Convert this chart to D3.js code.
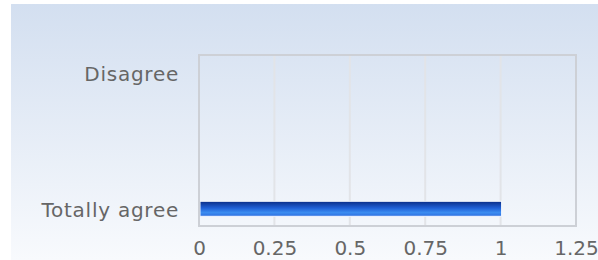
<!DOCTYPE html>
<html>
<head>
<meta charset="utf-8">
<script src="https://cdn.jsdelivr.net/npm/d3@7"></script>
<style>
  body { margin: 0; background: #fff; }
  text { font-family: "DejaVu Sans", Verdana, sans-serif; fill: #666; }
</style>
</head>
<body>
<div id="chart"></div>
<script>
// data
var categories = ["Disagree", "Totally agree"];
var values = [0, 1];
var tickValues = [0, 0.25, 0.5, 0.75, 1, 1.25];

var svgWidth = 598;
var svgHeight = 260;

var plot = { left: 199, top: 55, right: 576, bottom: 226 };

var svg = d3.select("#chart").append("svg")
  .attr("width", svgWidth)
  .attr("height", svgHeight);

var defs = svg.append("defs");

var bg = defs.append("linearGradient")
  .attr("id", "bgGrad")
  .attr("x1", 0).attr("y1", 0).attr("x2", 0).attr("y2", 1);
bg.append("stop").attr("offset", "0%").attr("stop-color", "#d3dff0");
bg.append("stop").attr("offset", "100%").attr("stop-color", "#f8fafd");

var barGrad = defs.append("linearGradient")
  .attr("id", "barGrad")
  .attr("x1", 0).attr("y1", 0).attr("x2", 0).attr("y2", 1);
barGrad.append("stop").attr("offset", "0%").attr("stop-color", "#0a2c86");
barGrad.append("stop").attr("offset", "45%").attr("stop-color", "#1f5fd6");
barGrad.append("stop").attr("offset", "75%").attr("stop-color", "#3b8cf0");
barGrad.append("stop").attr("offset", "100%").attr("stop-color", "#2f6fe0");

// background panel
svg.append("rect")
  .attr("x", 11)
  .attr("y", 4)
  .attr("width", svgWidth - 11)
  .attr("height", svgHeight - 4)
  .attr("fill", "url(#bgGrad)");

var x = d3.scaleLinear()
  .domain([0, 1.25])
  .range([plot.left, plot.right]);

var y = d3.scalePoint()
  .domain(categories)
  .range([plot.top, plot.bottom])
  .padding(0.126);

// gridlines
svg.append("g")
  .selectAll("line")
  .data(tickValues.slice(1, -1))
  .enter()
  .append("line")
  .attr("x1", d => x(d))
  .attr("x2", d => x(d))
  .attr("y1", plot.top)
  .attr("y2", plot.bottom)
  .attr("stroke", "#e2e4e8")
  .attr("stroke-width", 2);

// bars
var barH = 16;
svg.append("g")
  .selectAll("rect")
  .data(categories.map((c, i) => ({ cat: c, val: values[i] })).filter(d => d.val > 0))
  .enter()
  .append("rect")
  .attr("x", x(0) + 1)
  .attr("y", d => y(d.cat) - barH / 2 + 0.5)
  .attr("width", d => x(d.val) - x(0))
  .attr("height", barH - 1)
  .attr("fill", "url(#barGrad)")
  .attr("stroke", "#f4f8ff")
  .attr("stroke-width", 1);

// plot border
svg.append("rect")
  .attr("x", plot.left)
  .attr("y", plot.top)
  .attr("width", plot.right - plot.left)
  .attr("height", plot.bottom - plot.top)
  .attr("fill", "none")
  .attr("stroke", "#cdd0d6")
  .attr("stroke-width", 2);

// x axis
var xAxis = svg.append("g")
  .attr("transform", `translate(0, ${plot.bottom})`)
  .call(d3.axisBottom(x).tickValues(tickValues).tickSize(0).tickPadding(15)
    .tickFormat(d => String(d)));
xAxis.select(".domain").remove();
xAxis.selectAll("text")
  .attr("font-size", 20)
  .attr("font-family", null)
  .attr("fill", "#666");

// y axis
var yAxis = svg.append("g")
  .attr("transform", `translate(${plot.left - 1}, 0)`)
  .call(d3.axisLeft(y).tickSize(0).tickPadding(19));
yAxis.select(".domain").remove();
yAxis.selectAll("text")
  .attr("font-size", 20)
  .attr("font-family", null)
  .attr("letter-spacing", 0.75)
  .attr("dy", "0.4em")
  .attr("fill", "#666");
</script>
</body>
</html>
